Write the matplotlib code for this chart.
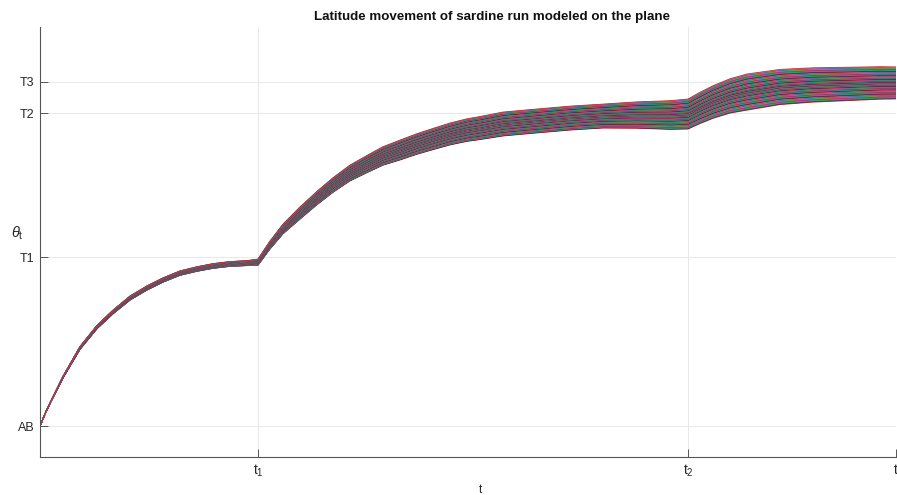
import numpy as np
import matplotlib.pyplot as plt

plt.rcParams['font.family'] = ['Liberation Sans', 'DejaVu Sans']
plt.rcParams['mathtext.fontset'] = 'custom'
plt.rcParams['mathtext.rm'] = 'Liberation Sans'
plt.rcParams['mathtext.it'] = 'Liberation Sans:italic'

# phase boundaries (fraction of the season) and latitude levels
t1 = 0.2547
t2 = 0.757
T = 1.0
lat_levels = [0.0, 1.0, 1.852, 2.036]
lat_labels = ['AB', 'T1', 'T2', 'T3']

# mean path of the sardine run
t_mean = [0.0, 0.0058, 0.0117, 0.0269, 0.0467, 0.0666, 0.0853, 0.1051, 0.125,
          0.1437, 0.1636, 0.1834, 0.2021, 0.222, 0.2418, 0.2547, 0.2687, 0.2839,
          0.3037, 0.3236, 0.3423, 0.3621, 0.382, 0.4007, 0.4206, 0.4404, 0.4591,
          0.479, 0.4988, 0.514, 0.541, 0.5806, 0.6192, 0.6577, 0.6974, 0.736,
          0.757, 0.771, 0.7862, 0.806, 0.8259, 0.8645, 0.903, 0.9428, 0.9813, 1.0]
theta_mean = [0.0, 0.071, 0.136, 0.290, 0.462, 0.586, 0.675, 0.757, 0.817,
              0.864, 0.905, 0.929, 0.947, 0.959, 0.964, 0.970, 1.071, 1.166,
              1.260, 1.349, 1.426, 1.497, 1.550, 1.598, 1.633, 1.669, 1.698,
              1.728, 1.751, 1.763, 1.787, 1.805, 1.822, 1.834, 1.840, 1.840,
              1.846, 1.882, 1.917, 1.953, 1.976, 2.006, 2.018, 2.024, 2.030, 2.030]

# half-width of the bundle of simulated paths
t_spread = [0.0, 0.05, 0.1, 0.25, 0.2547, 0.3037, 0.3621, 0.4206, 0.479,
            0.541, 0.6577, 0.757, 0.8259, 1.0]
theta_spread = [0.0, 0.009, 0.012, 0.015, 0.018, 0.036, 0.047, 0.059, 0.065,
                0.071, 0.071, 0.089, 0.107, 0.095]

n_paths = 100
path_colors = ['#c81e1e', '#22a022', '#b818b8', '#1f3fbf', '#1a1a1a', '#1798b8',
               '#7a7a18', '#d0609a', '#6a2898', '#962828', '#3cbc3c']

fig = plt.figure(figsize=(8.97, 4.95), dpi=100)
ax = fig.add_axes([40 / 897, 1 - 457 / 495, 856 / 897, 430 / 495])

tm = np.array(t_mean)
half = np.interp(tm, t_spread, theta_spread)
u = np.linspace(-1, 1, n_paths)
offsets = np.sign(u) * np.abs(u) ** 1.4
for i, k in enumerate(offsets):
    ax.plot(tm, np.array(theta_mean) + k * half, lw=0.6, alpha=0.9,
            color=path_colors[(i * 4) % len(path_colors)])

ax.set_xlim(0, T)
ax.set_ylim(-0.183, 2.361)
ax.set_xticks([t1, t2, T])
ax.set_xticklabels([r'$\mathrm{t}_{1}$', r'$\mathrm{t}_{2}$', 't'])
ax.set_yticks(lat_levels)
ax.set_yticklabels(lat_labels)
ax.grid(True, color='#e8e8e8', lw=0.7)
ax.set_axisbelow(True)

for side in ['top', 'right']:
    ax.spines[side].set_visible(False)
for side in ['left', 'bottom']:
    ax.spines[side].set_color('#555555')
    ax.spines[side].set_linewidth(0.8)
ax.tick_params(direction='in', length=6, width=0.7, color='#555555',
               labelcolor='#262626', labelsize=9)
ax.tick_params(axis='x', labelsize=10, pad=4)
ax.tick_params(axis='y', pad=4)

ax.set_title('Latitude movement of sardine run modeled on the plane',
             fontsize=9.6, fontweight='bold', x=0.528, pad=5, color='#111111')
ax.set_xlabel('t', fontsize=8.5, color='#262626')
ax.xaxis.set_label_coords(0.514, -0.062)
ax.set_ylabel(r'$\theta_{\mathrm{t}}$', fontsize=10.5, rotation=0, color='#262626')
ax.yaxis.set_label_coords(-0.027, 0.50)

fig.savefig('out.png', dpi=100)
